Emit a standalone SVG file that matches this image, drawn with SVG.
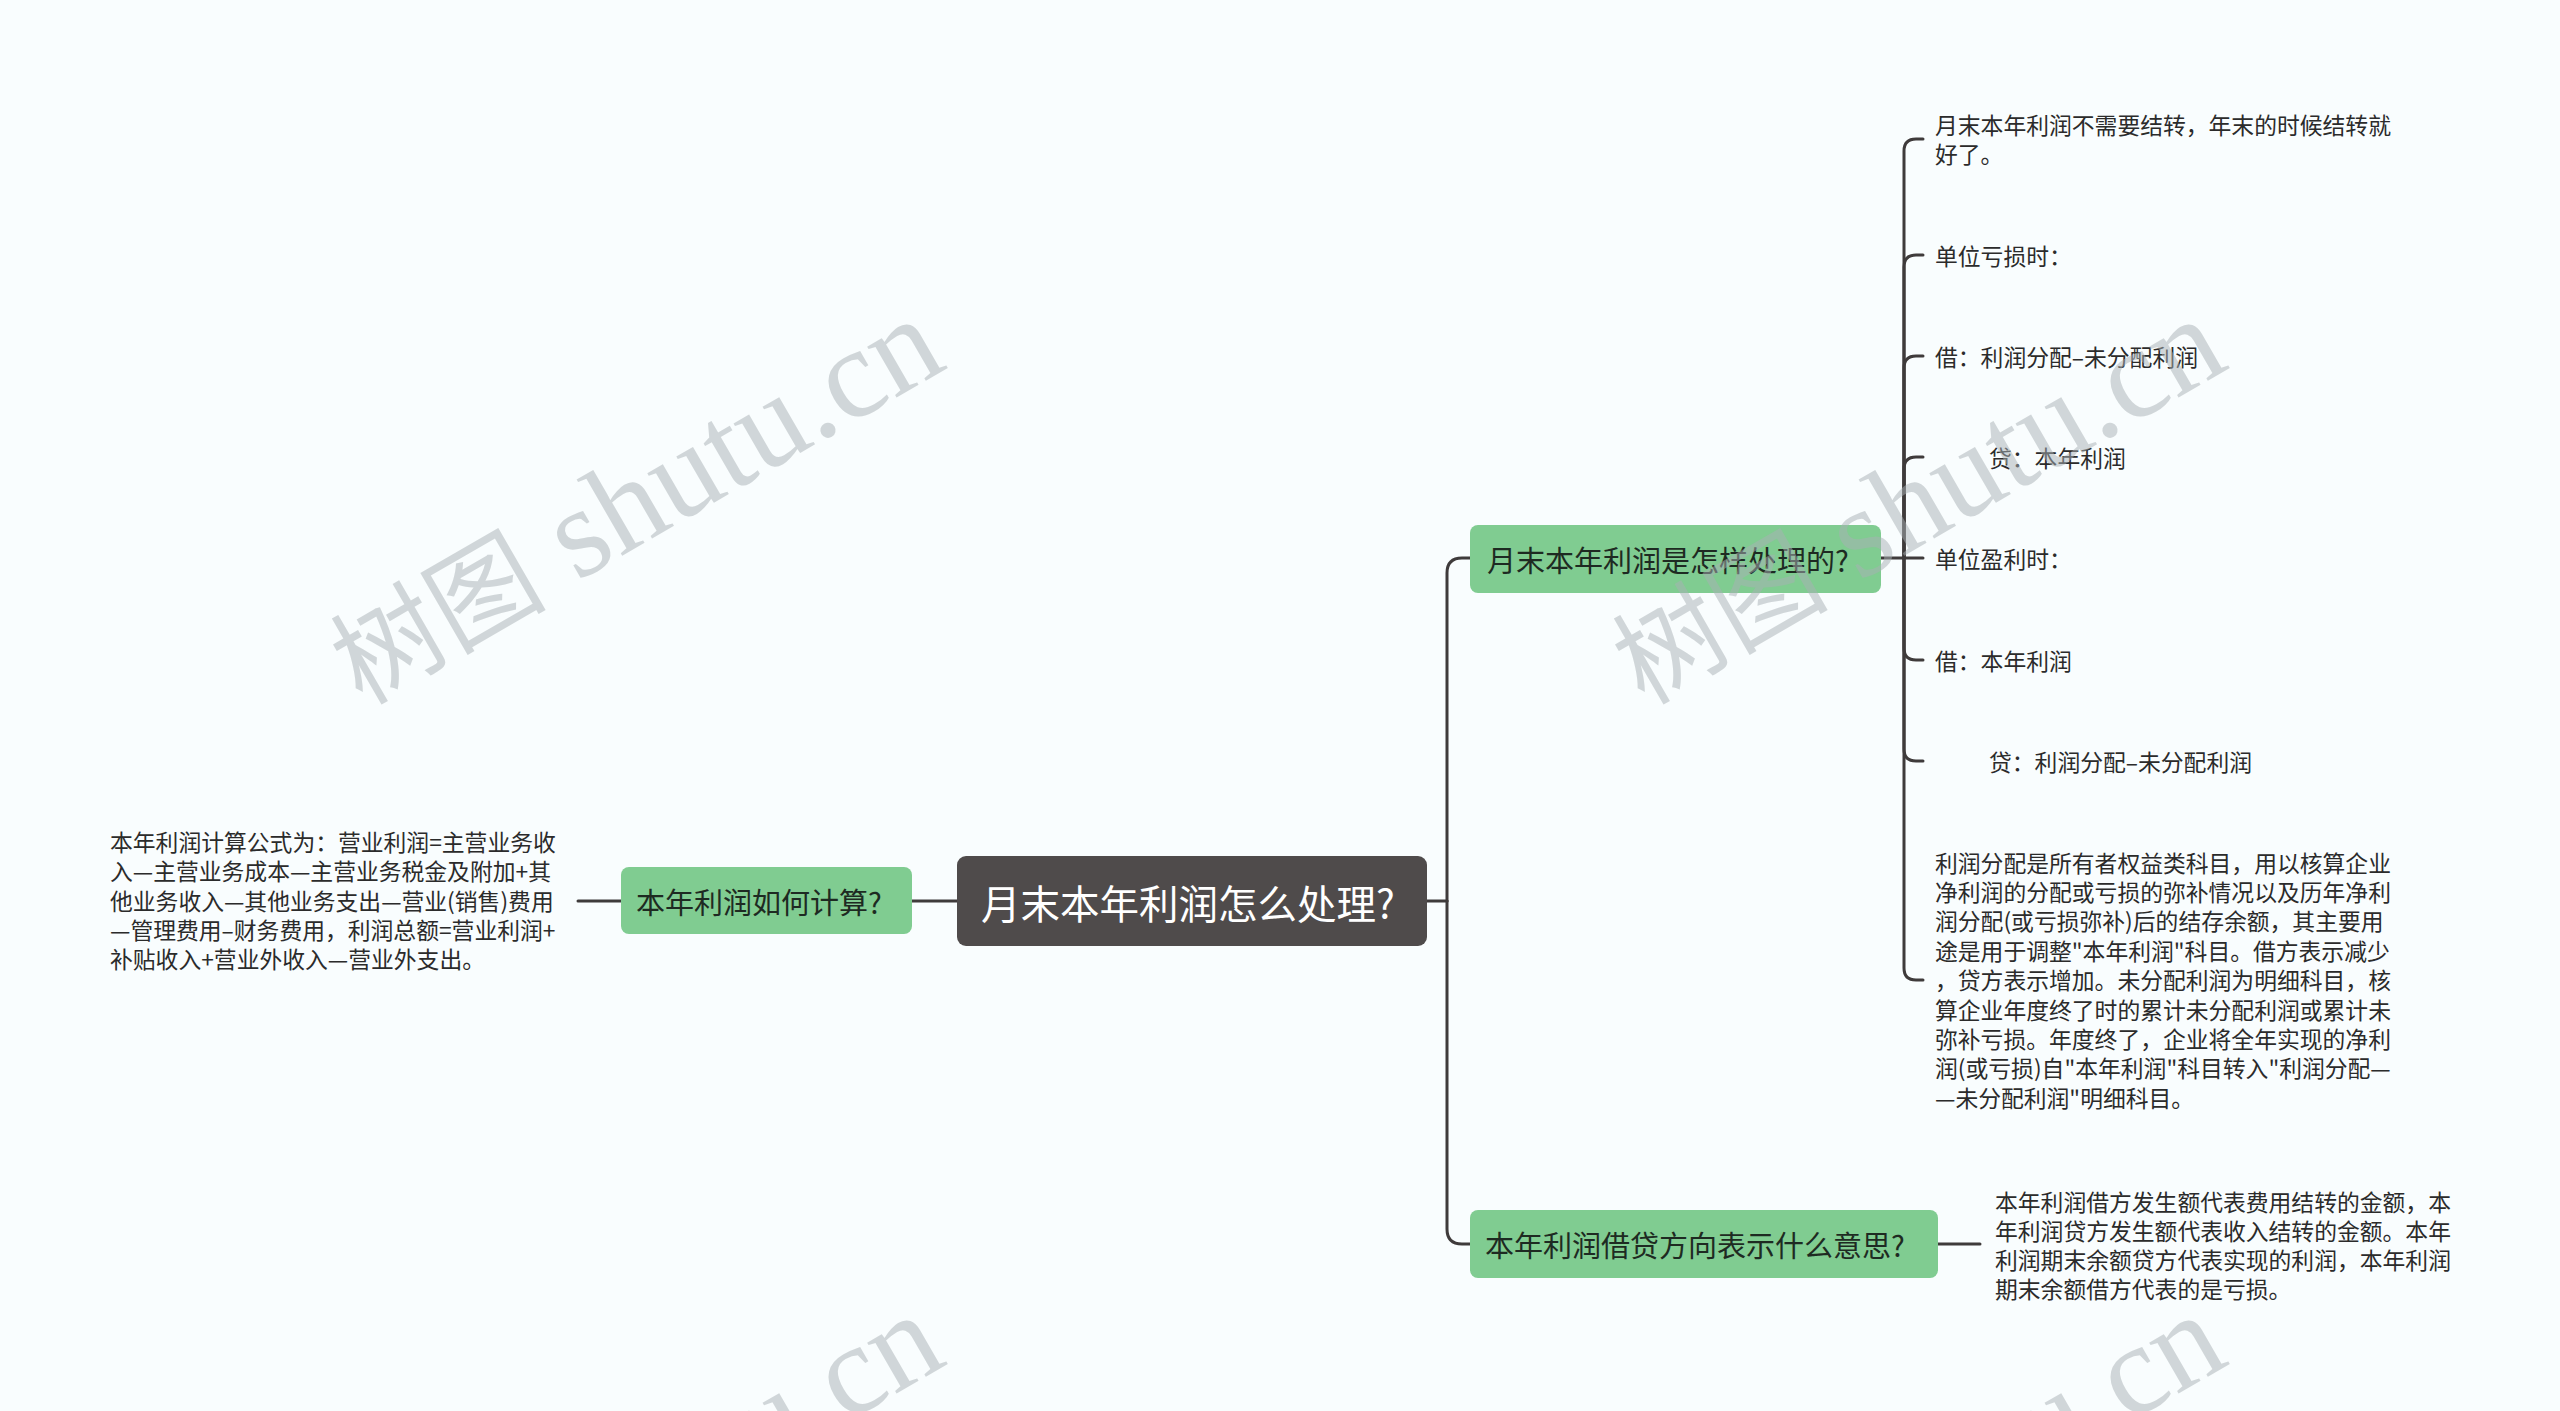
<svg xmlns="http://www.w3.org/2000/svg" width="2560" height="1411" viewBox="0 0 2560 1411">
<style>
.bg{fill:#f9fdfe}
.conn{fill:none;stroke:#3f3b3b;stroke-width:3;stroke-linecap:round}
.root{fill:#4f4b4b}
.sub{fill:#80cc91}
.t{font-family:"Noto Sans CJK SC","Noto Sans",sans-serif;dominant-baseline:central}
.rt{font-size:39.5px;fill:#ffffff}
.st{font-size:29px;fill:#1e2a22}
.lt{font-size:22.8px;fill:#2b2b2b}
.wm{font-family:"Liberation Serif","Noto Sans CJK SC",serif;font-size:128px;fill:#a9b1b5;opacity:0.5}
.wmc{font-family:"Noto Sans CJK SC",serif;font-size:108px}
</style>
<rect class="bg" x="0" y="0" width="2560" height="1411"/>
<g id="connectors">
<path class="conn" d="M578 901 H621"/>
<path class="conn" d="M911 901 H957"/>
<path class="conn" d="M1427 901 H1447"/>
<path class="conn" d="M1447 901 V573 Q1447 558 1462 558 H1470"/>
<path class="conn" d="M1447 901 V1229 Q1447 1244 1462 1244 H1470"/>
<path class="conn" d="M1881 558 H1904"/>
<path class="conn" d="M1904 558 V151 Q1904 139 1916 139 H1923"/>
<path class="conn" d="M1904 558 V267 Q1904 255 1916 255 H1923"/>
<path class="conn" d="M1904 558 V368 Q1904 356 1916 356 H1923"/>
<path class="conn" d="M1904 558 V469 Q1904 457 1916 457 H1923"/>
<path class="conn" d="M1904 558 H1923"/>
<path class="conn" d="M1904 558 V648 Q1904 660 1916 660 H1923"/>
<path class="conn" d="M1904 558 V749 Q1904 761 1916 761 H1923"/>
<path class="conn" d="M1904 558 V968 Q1904 980 1916 980 H1923"/>
<path class="conn" d="M1938 1244 H1980"/>
</g>
<g id="root">
<rect class="root" x="957" y="856" width="470" height="90" rx="9"/>
<text class="t rt" x="981" y="901">月末本年利润怎么处理?</text>
</g>
<g id="calc">
<rect class="sub" x="621" y="867" width="291" height="67" rx="8"/>
<text class="t st" x="636" y="901">本年利润如何计算?</text>
</g>
<g id="calc-text">
<text class="t lt" x="110" y="841.4">本年利润计算公式为：营业利润=主营业务收</text>
<text class="t lt" x="110" y="870.7">入—主营业务成本—主营业务税金及附加+其</text>
<text class="t lt" x="110" y="900">他业务收入—其他业务支出—营业(销售)费用</text>
<text class="t lt" x="110" y="929.3">—管理费用–财务费用，利润总额=营业利润+</text>
<text class="t lt" x="110" y="958.6">补贴收入+营业外收入—营业外支出。</text>
</g>
<g id="monthly">
<rect class="sub" x="1470" y="525" width="411" height="68" rx="8"/>
<text class="t st" x="1487" y="559">月末本年利润是怎样处理的?</text>
</g>
<g id="m1">
<text class="t lt" x="1935" y="124.5">月末本年利润不需要结转，年末的时候结转就</text>
<text class="t lt" x="1935" y="153.5">好了。</text>
</g>
<g id="m2"><text class="t lt" x="1935" y="255">单位亏损时：</text></g>
<g id="m3"><text class="t lt" x="1935" y="356">借：利润分配–未分配利润</text></g>
<g id="m4"><text class="t lt" x="1989" y="457">贷：本年利润</text></g>
<g id="m5"><text class="t lt" x="1935" y="558">单位盈利时：</text></g>
<g id="m6"><text class="t lt" x="1935" y="660">借：本年利润</text></g>
<g id="m7"><text class="t lt" x="1989" y="761">贷：利润分配–未分配利润</text></g>
<g id="m8">
<text class="t lt" x="1935" y="862">利润分配是所有者权益类科目，用以核算企业</text>
<text class="t lt" x="1935" y="891.4">净利润的分配或亏损的弥补情况以及历年净利</text>
<text class="t lt" x="1935" y="920.8">润分配(或亏损弥补)后的结存余额，其主要用</text>
<text class="t lt" x="1935" y="950.2">途是用于调整"本年利润"科目。借方表示减少</text>
<text class="t lt" x="1935" y="979.6">，贷方表示增加。未分配利润为明细科目，核</text>
<text class="t lt" x="1935" y="1009">算企业年度终了时的累计未分配利润或累计未</text>
<text class="t lt" x="1935" y="1038.4">弥补亏损。年度终了，企业将全年实现的净利</text>
<text class="t lt" x="1935" y="1067.8">润(或亏损)自"本年利润"科目转入"利润分配—</text>
<text class="t lt" x="1935" y="1097.2">—未分配利润"明细科目。</text>
</g>
<g id="direction">
<rect class="sub" x="1470" y="1210" width="468" height="68" rx="8"/>
<text class="t st" x="1485" y="1244">本年利润借贷方向表示什么意思?</text>
</g>
<g id="direction-text">
<text class="t lt" x="1995" y="1201">本年利润借方发生额代表费用结转的金额，本</text>
<text class="t lt" x="1995" y="1230">年利润贷方发生额代表收入结转的金额。本年</text>
<text class="t lt" x="1995" y="1259">利润期末余额贷方代表实现的利润，本年利润</text>
<text class="t lt" x="1995" y="1288">期末余额借方代表的是亏损。</text>
</g>
<g id="watermarks">
<text class="wm" x="362" y="706" transform="rotate(-30 362 706)"><tspan class="wmc">树图</tspan> shutu.cn</text>
<text class="wm" x="1644" y="706" transform="rotate(-30 1644 706)"><tspan class="wmc">树图</tspan> shutu.cn</text>
<text class="wm" x="362" y="1702" transform="rotate(-30 362 1702)"><tspan class="wmc">树图</tspan> shutu.cn</text>
<text class="wm" x="1644" y="1702" transform="rotate(-30 1644 1702)"><tspan class="wmc">树图</tspan> shutu.cn</text>
</g>
</svg>
